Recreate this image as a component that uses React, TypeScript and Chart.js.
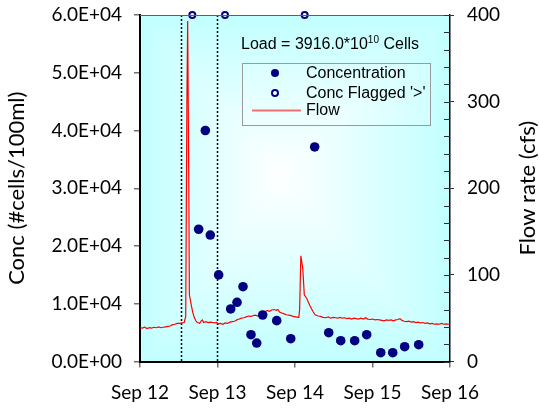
import React, { useEffect, useRef } from "react";
import { Chart, registerables } from "chart.js";

Chart.register(...registerables);

// ---- Data (x values are days since Sep 12 00:00) ----
const xTickLabels = ["Sep 12", "Sep 13", "Sep 14", "Sep 15", "Sep 16"];
const yTickLabels = ["0.0E+00", "1.0E+04", "2.0E+04", "3.0E+04", "4.0E+04", "5.0E+04", "6.0E+04"];
const y1TickLabels = ["0", "100", "200", "300", "400"];

const concDays = [0.757, 0.843, 0.907, 1.015, 1.17, 1.252, 1.329, 1.432, 1.506, 1.583, 1.764, 1.945, 2.254, 2.435, 2.59, 2.77, 2.925, 3.106, 3.261, 3.415, 3.596];
const concValues = [22900, 40000, 21900, 15000, 9100, 10250, 12950, 4640, 3200, 8050, 7070, 3950, 37150, 4990, 3600, 3600, 4640, 1520, 1520, 2560, 2910];

const flaggedDays = [0.675, 1.097, 2.125];
const flaggedValues = [60000, 60000, 60000];

const flowDays = [
  0.0, 0.03, 0.06, 0.09, 0.12, 0.15, 0.18, 0.21, 0.24, 0.27, 0.3, 0.33, 0.36, 0.39, 0.42, 0.45, 0.48, 0.51, 0.54, 0.57,
  0.59, 0.605, 0.615, 0.63, 0.637, 0.66, 0.68, 0.7, 0.72, 0.74, 0.77, 0.79, 0.805, 0.82, 0.85, 0.88, 0.91, 0.94, 0.97, 0.99,
  1.01, 1.04, 1.07, 1.1, 1.13, 1.16, 1.19, 1.22, 1.25, 1.28, 1.31, 1.34, 1.37, 1.4, 1.43, 1.46, 1.49, 1.52, 1.55, 1.58,
  1.61, 1.64, 1.67, 1.7, 1.73, 1.76, 1.78, 1.8, 1.83, 1.86, 1.89, 1.92, 1.95, 1.98, 2.01, 2.04, 2.05, 2.06, 2.075, 2.1,
  2.12, 2.15, 2.19, 2.23, 2.26, 2.3, 2.33, 2.36, 2.4, 2.43, 2.46, 2.49, 2.52, 2.55, 2.58, 2.61, 2.64, 2.67, 2.7, 2.73,
  2.76, 2.79, 2.82, 2.85, 2.88, 2.91, 2.94, 2.97, 3.0, 3.03, 3.06, 3.09, 3.12, 3.15, 3.18, 3.21, 3.24, 3.27, 3.3, 3.33,
  3.355, 3.38, 3.41, 3.44, 3.47, 3.5, 3.53, 3.56, 3.59, 3.62, 3.65, 3.68, 3.71, 3.74, 3.77, 3.8, 3.83, 3.86, 3.89, 3.92,
  3.95, 3.98, 4.0,
];
const flowValues = [
  39, 38.5, 39.5, 38, 39, 38.5, 39.5, 39, 40, 39, 39.5, 40, 40.5, 41, 42.5, 43, 44, 44, 44.5, 45,
  52, 300, 393, 200, 77, 66, 57, 51, 47, 45, 44, 47, 48, 45, 46, 45, 45.5, 45, 44.5, 45,
  43.5, 44, 43, 44.5, 44, 45.5, 46, 46.5, 48, 49, 50, 50.5, 51.5, 52.5, 52, 53, 53.5, 52.5, 54, 55,
  57, 59, 58, 59.5, 60, 59, 60, 57, 56, 55, 54, 53.5, 53, 52, 51.5, 51, 52, 60, 122, 108,
  77, 73, 65, 58, 54, 52.5, 52, 51, 50.5, 51.5, 50, 51, 50.5, 50, 51, 50, 50.5, 49.5, 50, 49,
  50, 49.5, 49, 50, 49, 50.5, 49, 48.5, 49, 48, 48.5, 48, 47.5, 47, 48, 47.5, 48, 47, 48, 48.5,
  49.5, 47.5, 46.5, 46, 46.5, 45.5, 46, 45, 45.5, 44.5, 45, 44, 44.5, 43.5, 44, 43, 43.5, 43, 44, 43,
  43.5, 43, 43.5,
];

const stormMarkers = [0.527, 0.99];
const loadMain = "Load = 3916.0*10";
const loadExp = "10";
const loadTail = " Cells";
const legendLabels = ["Concentration", "Conc Flagged '>'", "Flow"];
const rightTitle = "Flow rate (cfs)";

const NAVY = "#000080";
const FLOW_RED = "#ff0000";
const TITLE_FONT = "22px Lato, 'Open Sans', sans-serif";

const bgPlugin = {
  id: "pathGradientBg",
  beforeDraw(chart: any) {
    const { ctx, chartArea: a } = chart;
    const w = a.right - a.left;
    const h = a.bottom - a.top;
    const cx = a.left + w * 0.45;
    const cy = a.top + h * 0.46;
    const edge = "#c2ffff";
    const tris: number[][] = [
      [a.left, a.top, a.left, a.bottom, a.left, cy],
      [a.right, a.top, a.right, a.bottom, a.right, cy],
      [a.left, a.top, a.right, a.top, cx, a.top],
      [a.left, a.bottom, a.right, a.bottom, cx, a.bottom],
    ];
    ctx.save();
    ctx.beginPath();
    ctx.rect(a.left, a.top, w, h);
    ctx.clip();
    ctx.fillStyle = edge;
    ctx.fillRect(a.left, a.top, w, h);
    for (const t of tris) {
      const g = ctx.createLinearGradient(cx, cy, t[4], t[5]);
      g.addColorStop(0, "#ffffff");
      g.addColorStop(1, edge);
      ctx.fillStyle = g;
      ctx.beginPath();
      ctx.moveTo(cx, cy);
      ctx.lineTo(t[0], t[1]);
      ctx.lineTo(t[2], t[3]);
      ctx.closePath();
      ctx.fill();
    }
    ctx.restore();
  },
  beforeDatasetsDraw(chart: any) {
    const { ctx, chartArea: a, scales } = chart;
    ctx.save();
    ctx.strokeStyle = "#000";
    ctx.lineWidth = 1.5;
    ctx.setLineDash([2, 2]);
    for (const d of stormMarkers) {
      const x = Math.round(scales.x.getPixelForValue(d)) + 0.5;
      ctx.beginPath();
      ctx.moveTo(x, a.top);
      ctx.lineTo(x, a.bottom);
      ctx.stroke();
    }
    ctx.restore();
  },
  afterDraw(chart: any) {
    const { ctx, chartArea: a, scales } = chart;
    ctx.save();
    // top frame line
    ctx.strokeStyle = "#606060";
    ctx.lineWidth = 1;
    ctx.beginPath();
    ctx.moveTo(a.left, a.top + 0.5);
    ctx.lineTo(a.right, a.top + 0.5);
    ctx.stroke();
    // right axis inward minor ticks
    ctx.strokeStyle = "#303030";
    for (let v = 0; v <= 400; v += 20) {
      const y = Math.round(scales.y1.getPixelForValue(v)) + 0.5;
      ctx.beginPath();
      ctx.moveTo(a.right - 6, y);
      ctx.lineTo(a.right, y);
      ctx.stroke();
    }
    // right axis title, reading bottom-to-top
    ctx.save();
    ctx.translate(scales.y1.right - 11, (a.top + a.bottom) / 2);
    ctx.rotate(-Math.PI / 2);
    ctx.fillStyle = "#000";
    ctx.font = TITLE_FONT;
    ctx.textAlign = "center";
    ctx.textBaseline = "middle";
    ctx.fillText(rightTitle, 0, 0);
    ctx.restore();

    // Load annotation
    ctx.fillStyle = "#000";
    ctx.textBaseline = "alphabetic";
    const mainFont = "16px 'Liberation Sans', Arial, sans-serif";
    const supFont = "10px 'Liberation Sans', Arial, sans-serif";
    ctx.font = mainFont;
    const w1 = ctx.measureText(loadMain).width;
    const w3 = ctx.measureText(loadTail).width;
    ctx.font = supFont;
    const w2 = ctx.measureText(loadExp).width;
    const total = w1 + w2 + w3;
    let lx = a.left + (a.right - a.left) * 0.613 - total / 2;
    const ly = a.top + 34;
    ctx.font = mainFont;
    ctx.fillText(loadMain, lx, ly);
    lx += w1;
    ctx.font = supFont;
    ctx.fillText(loadExp, lx, ly - 6);
    lx += w2;
    ctx.font = mainFont;
    ctx.fillText(loadTail, lx, ly);

    // legend box
    const bx = a.left + 102;
    const by = a.top + 48;
    const bw = 188;
    const bh = 62;
    ctx.fillStyle = "rgba(255,255,255,0.15)";
    ctx.fillRect(bx, by, bw, bh);
    ctx.strokeStyle = "#9a9a9a";
    ctx.lineWidth = 1;
    ctx.strokeRect(bx + 0.5, by + 0.5, bw, bh);
    const mx = bx + 33;
    const tx = bx + 64;
    const rows = [by + 10, by + 30, by + 47];
    ctx.fillStyle = NAVY;
    ctx.beginPath();
    ctx.arc(mx, rows[0], 4, 0, Math.PI * 2);
    ctx.fill();
    ctx.fillStyle = "#fff";
    ctx.strokeStyle = NAVY;
    ctx.lineWidth = 2;
    ctx.beginPath();
    ctx.arc(mx, rows[1], 3, 0, Math.PI * 2);
    ctx.fill();
    ctx.stroke();
    ctx.strokeStyle = "#f07070";
    ctx.lineWidth = 2;
    ctx.beginPath();
    ctx.moveTo(bx + 10, rows[2] + 0.5);
    ctx.lineTo(bx + 59, rows[2] + 0.5);
    ctx.stroke();
    ctx.fillStyle = "#000";
    ctx.font = mainFont;
    ctx.textBaseline = "middle";
    legendLabels.forEach((t, i) => ctx.fillText(t, tx, rows[i] + 1));
    ctx.restore();
  },
};

export default function App() {
  const ref = useRef<HTMLCanvasElement>(null);
  useEffect(() => {
    document.body.style.margin = "0";
    const canvas = ref.current!;
    const tickFont = { family: "Lato, 'Open Sans', sans-serif", size: 19 };
    const titleFont = { family: "Lato, 'Open Sans', sans-serif", size: 22, lineHeight: 1 };
    const noVPad = (s: any, width: number) => {
      s.width = width;
      s.paddingTop = 0;
      s.paddingBottom = 0;
    };
    const chart = new Chart(canvas, {
      type: "scatter",
      data: {
        datasets: [
          {
            label: legendLabels[0],
            data: concDays.map((d, i) => ({ x: d, y: concValues[i] })),
            yAxisID: "y",
            pointRadius: 4.8,
            pointBackgroundColor: NAVY,
            pointBorderColor: NAVY,
            pointBorderWidth: 0,
            showLine: false,
            order: 0,
          },
          {
            label: legendLabels[1],
            data: flaggedDays.map((d, i) => ({ x: d, y: flaggedValues[i] })),
            yAxisID: "y",
            pointRadius: 3,
            pointBackgroundColor: "#ffffff",
            pointBorderColor: NAVY,
            pointBorderWidth: 2,
            showLine: false,
            clip: false,
            order: 0,
          },
          {
            type: "line",
            label: legendLabels[2],
            data: flowDays.map((d, i) => ({ x: d, y: flowValues[i] })),
            yAxisID: "y1",
            borderColor: FLOW_RED,
            borderWidth: 1.2,
            pointRadius: 0,
            tension: 0,
            showLine: true,
            order: 2,
          } as any,
        ],
      },
      options: {
        animation: false,
        responsive: false,
        devicePixelRatio: 1,
        layout: { padding: { top: 15, left: 0, right: 0, bottom: 0 } },
        plugins: { legend: { display: false }, tooltip: { enabled: false } },
        scales: {
          x: {
            type: "linear",
            min: 0,
            max: 4,
            afterFit: (s: any) => { s.height = 48.5; },
            afterBuildTicks: (s: any) => { s.ticks = xTickLabels.map((_, i) => ({ value: i })); },
            ticks: {
              callback: (_v: any, i: number) => xTickLabels[i],
              font: tickFont,
              color: "#000",
              padding: 14,
              maxRotation: 0,
              autoSkip: false,
            },
            grid: { drawOnChartArea: false, drawTicks: true, tickLength: 6, color: "#707070", lineWidth: 1.5 },
            border: { display: true, color: "#000", width: 2 },
          },
          y: {
            type: "linear",
            position: "left",
            min: 0,
            max: 60000,
            afterFit: (s: any) => noVPad(s, 140),
            afterBuildTicks: (s: any) => { s.ticks = yTickLabels.map((_, i) => ({ value: i * 10000 })); },
            ticks: {
              callback: (_v: any, i: number) => yTickLabels[i],
              font: tickFont,
              color: "#000",
              padding: 12,
            },
            grid: { drawOnChartArea: false, drawTicks: true, tickLength: 6, color: "#707070", lineWidth: 1.5 },
            border: { display: true, color: "#000", width: 2 },
            title: {
              display: true,
              text: "Conc (#cells/100ml)",
              font: titleFont,
              color: "#000",
              padding: { top: 6, bottom: 0 },
            },
          },
          y1: {
            type: "linear",
            position: "right",
            min: 0,
            max: 400,
            afterFit: (s: any) => noVPad(s, 89),
            afterBuildTicks: (s: any) => { s.ticks = y1TickLabels.map((_, i) => ({ value: i * 100 })); },
            ticks: {
              callback: (_v: any, i: number) => y1TickLabels[i],
              font: tickFont,
              color: "#000",
              padding: 13,
            },
            grid: { drawOnChartArea: false, drawTicks: true, tickLength: 4, color: "#303030" },
            border: { display: true, color: "#000", width: 1.5 },
          },
        },
      } as any,
      plugins: [bgPlugin],
    });
    return () => chart.destroy();
  }, []);
  return <canvas ref={ref} width={539} height={410} style={{ display: "block", width: 539, height: 410 }} />;
}
